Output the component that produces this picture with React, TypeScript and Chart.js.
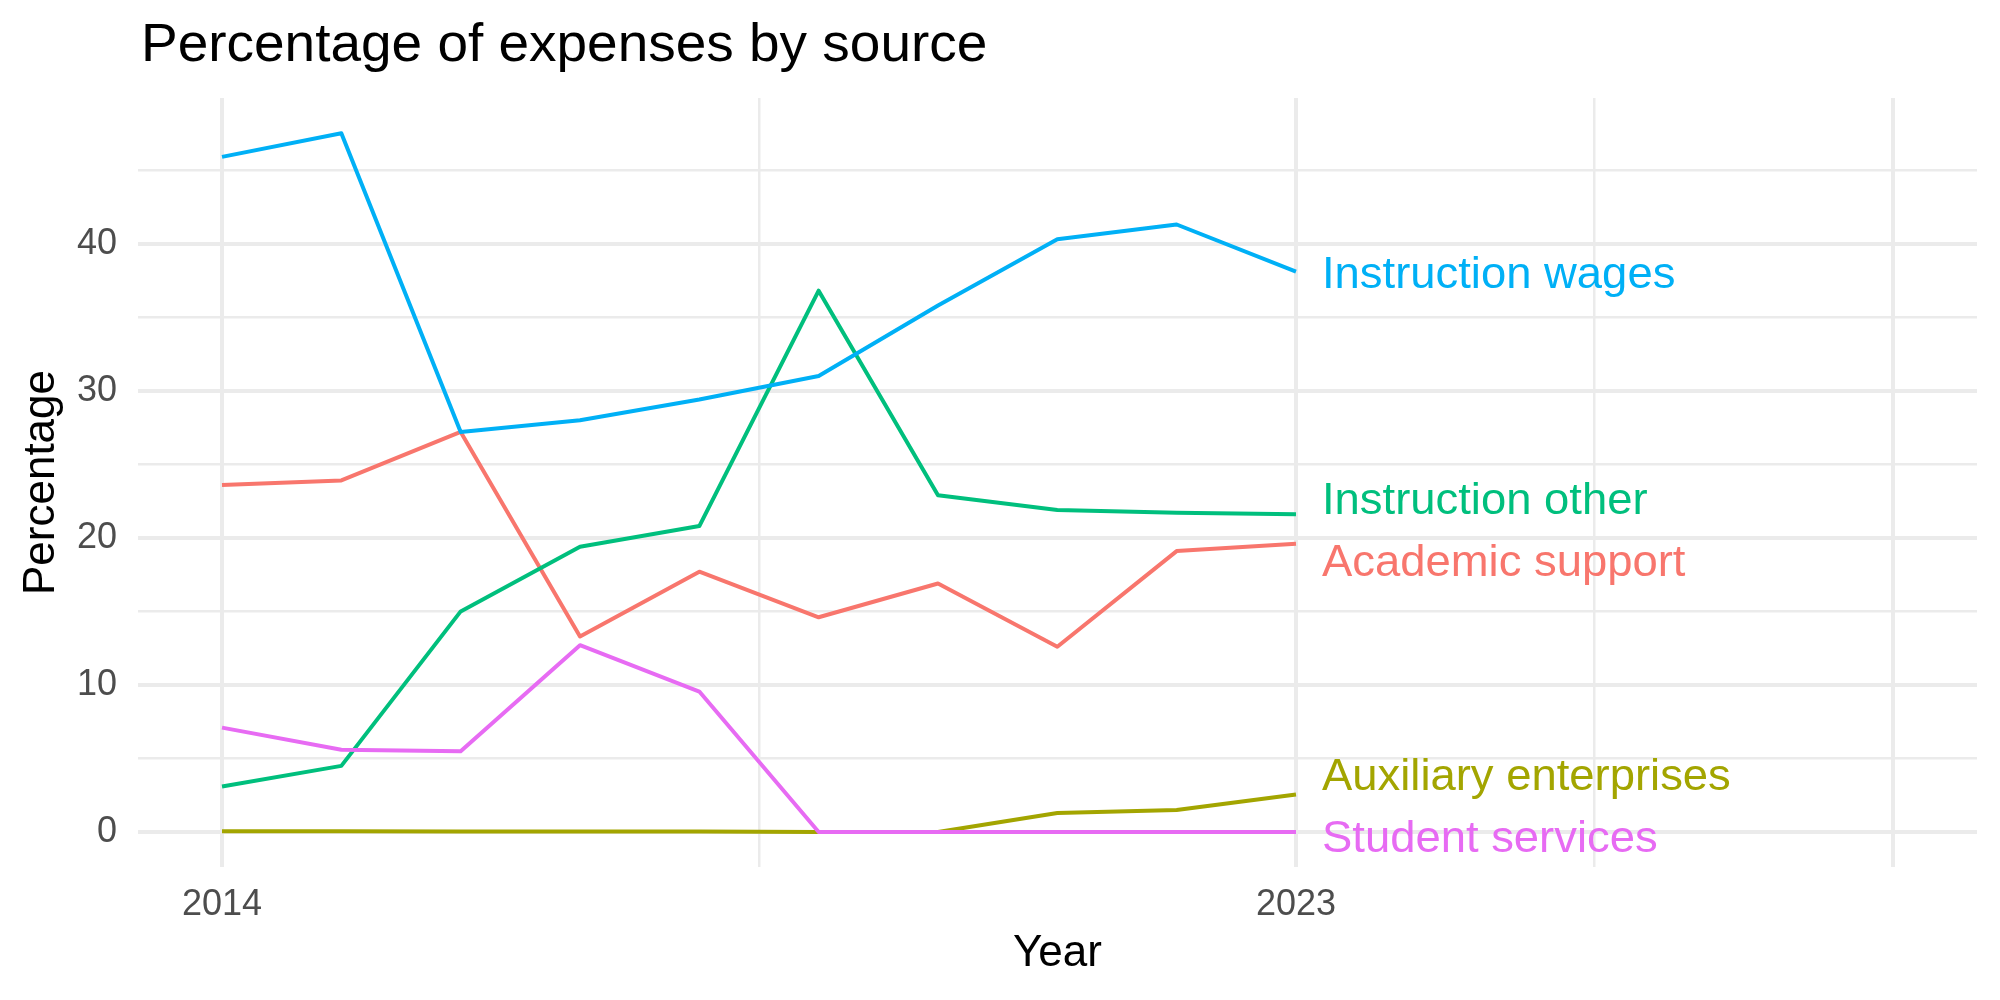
import React, { useEffect, useRef } from 'react';
import { Chart, registerables } from 'chart.js';
Chart.register(...registerables);

const years = [2014, 2015, 2016, 2017, 2018, 2019, 2020, 2021, 2022, 2023];
const academicSupport = [23.6, 23.9, 27.2, 13.3, 17.7, 14.6, 16.9, 12.6, 19.1, 19.6];
const auxiliaryEnterprises = [0.05, 0.05, 0.04, 0.04, 0.03, 0, 0, 1.3, 1.5, 2.55];
const instructionOther = [3.1, 4.5, 15.0, 19.4, 20.8, 36.8, 22.9, 21.9, 21.7, 21.6];
const instructionWages = [45.9, 47.5, 27.2, 28.0, 29.4, 31.0, 35.8, 40.3, 41.3, 38.1];
const studentServices = [7.1, 5.6, 5.5, 12.7, 9.55, 0, 0, 0, 0, 0];

const seriesNames = ['Academic support', 'Auxiliary enterprises', 'Instruction other', 'Instruction wages', 'Student services'];
const seriesValues = [academicSupport, auxiliaryEnterprises, instructionOther, instructionWages, studentServices];
const seriesColors = ['#F8766D', '#A3A500', '#00BF7D', '#00B0F6', '#E76BF3'];

const yMajorTicks = [0, 10, 20, 30, 40];
const yMinorTicks = [5, 15, 25, 35, 45];
const xMajorTicks = [2014, 2023, 2028];
const xMinorTicks = [2018.5, 2025.5];
const xTickLabels = [2014, 2023];

const TITLE = 'Percentage of expenses by source';
const FONT = '"Liberation Sans", Arial, Helvetica, sans-serif';

const titlePlugin = {
  id: 'ggTitle',
  afterDraw(chart: any) {
    const ctx = chart.ctx;
    ctx.save();
    ctx.font = `53px ${FONT}`;
    ctx.fillStyle = '#000000';
    ctx.textAlign = 'left';
    ctx.textBaseline = 'alphabetic';
    const x0 = chart.chartArea.left + 3;
    ctx.translate(x0, 61);
    ctx.scale(1.037, 1);
    ctx.fillText(TITLE, 0, 0);
    ctx.restore();
  },
};

const labelPlugin = {
  id: 'endLabels',
  afterDatasetsDraw(chart: any) {
    const xs = chart.scales.x;
    const ys = chart.scales.y;
    const ctx = chart.ctx;
    const lastYear = years[years.length - 1];
    const items = seriesNames.map((name, i) => {
      const v = seriesValues[i][seriesValues[i].length - 1];
      return { name, color: seriesColors[i], y: ys.getPixelForValue(v) };
    });
    const sorted = [...items].sort((a, b) => a.y - b.y);
    const gap = 62;
    const minY = chart.chartArea.top + 31;
    const maxY = chart.chartArea.bottom - 31;
    for (let iter = 0; iter < 200; iter++) {
      for (let k = 0; k < sorted.length - 1; k++) {
        const a = sorted[k];
        const b = sorted[k + 1];
        const d = b.y - a.y;
        if (d < gap) {
          const push = (gap - d) / 2;
          a.y -= push;
          b.y += push;
        }
      }
      for (const it of sorted) {
        if (it.y > maxY) it.y = maxY;
        if (it.y < minY) it.y = minY;
      }
    }
    const x = xs.getPixelForValue(lastYear) + 26;
    ctx.save();
    ctx.font = `44px ${FONT}`;
    ctx.textAlign = 'left';
    ctx.textBaseline = 'middle';
    for (const it of items) {
      ctx.save();
      ctx.fillStyle = it.color;
      ctx.translate(x, it.y + 4);
      ctx.scale(1.032, 1);
      ctx.fillText(it.name, 0, 0);
      ctx.restore();
    }
    ctx.restore();
  },
};

export default function App() {
  const ref = useRef<HTMLCanvasElement | null>(null);
  useEffect(() => {
    document.body.style.margin = '0';
    const canvas = ref.current;
    if (!canvas) return;
    const datasets = seriesNames.map((name, i) => ({
      label: name,
      data: years.map((yr, j) => ({ x: yr, y: seriesValues[i][j] })),
      borderColor: seriesColors[i],
      backgroundColor: seriesColors[i],
      borderWidth: 4,
      pointRadius: 0,
      tension: 0,
      fill: false,
      borderCapStyle: 'butt' as const,
      borderJoinStyle: 'round' as const,
      order: seriesNames.length - 1 - i,
    }));
    const chart = new Chart(canvas, {
      type: 'line',
      data: { datasets },
      options: {
        animation: false,
        responsive: false,
        maintainAspectRatio: false,
        devicePixelRatio: 1,
        layout: { padding: { left: 0, top: 98, right: 23, bottom: 0 } },
        plugins: {
          legend: { display: false },
          tooltip: { enabled: false },
          title: { display: false },
        },
        scales: {
          x: {
            type: 'linear',
            min: 2013.296,
            max: 2028.707,
            afterBuildTicks: (scale: any) => {
              scale.ticks = [...xMajorTicks, ...xMinorTicks].sort((a, b) => a - b).map((v) => ({ value: v }));
            },
            afterFit: (scale: any) => {
              scale.height = 133;
            },
            ticks: {
              autoSkip: false,
              maxRotation: 0,
              minRotation: 0,
              padding: 16,
              color: '#4D4D4D',
              font: { family: FONT, size: 36 },
              callback: (v: any) => (xTickLabels.includes(Number(v)) ? String(v) : ''),
            },
            grid: {
              drawTicks: false,
              color: '#EBEBEB',
              lineWidth: (c: any) => (xMajorTicks.includes(c.tick?.value) ? 4 : 2.5),
            },
            border: { display: false },
            title: {
              display: true,
              text: 'Year',
              color: '#000000',
              font: { family: FONT, size: 44, lineHeight: 1 },
              padding: { top: 0, bottom: 24 },
            },
          },
          y: {
            type: 'linear',
            min: -2.375,
            max: 49.9,
            afterBuildTicks: (scale: any) => {
              scale.ticks = [...yMajorTicks, ...yMinorTicks].sort((a, b) => a - b).map((v) => ({ value: v }));
            },
            afterFit: (scale: any) => {
              scale.width = 138;
            },
            ticks: {
              autoSkip: false,
              padding: 21,
              color: '#4D4D4D',
              font: { family: FONT, size: 36 },
              callback: (v: any) => (yMajorTicks.includes(Number(v)) ? String(v) : ''),
            },
            grid: {
              drawTicks: false,
              color: '#EBEBEB',
              lineWidth: (c: any) => (yMajorTicks.includes(c.tick?.value) ? 4 : 2.5),
            },
            border: { display: false },
            title: {
              display: true,
              text: 'Percentage',
              color: '#000000',
              font: { family: FONT, size: 44, lineHeight: 1 },
              padding: { top: 20, bottom: 0 },
            },
          },
        },
      },
      plugins: [titlePlugin, labelPlugin],
    });
    return () => chart.destroy();
  }, []);
  return (
    <div style={{ width: 2000, height: 1000 }}>
      <canvas ref={ref} width={2000} height={1000} style={{ display: 'block', width: 2000, height: 1000 }} />
    </div>
  );
}
